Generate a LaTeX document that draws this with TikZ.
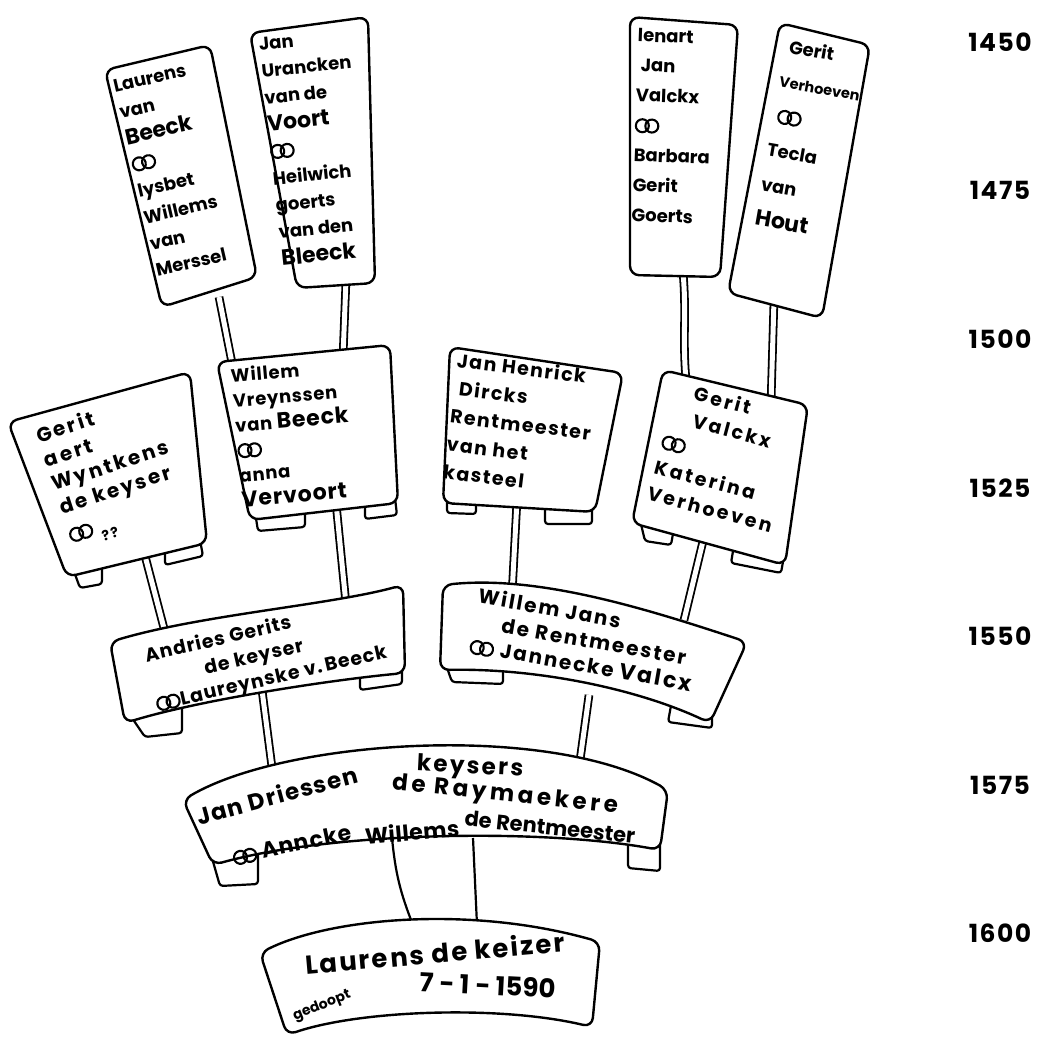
\documentclass[tikz,border=0pt]{standalone}
\usepackage{fontspec}
\setmainfont{Poppins}
\usetikzlibrary{positioning}

\newcommand\rings{\tikz[baseline=0pt, x=1pt, y=1pt, line width=2.1pt]{\draw (0,6) circle[radius=6.5]; \draw (9.5,6) circle[radius=6.5];}}
\newcommand\hand{\fontsize{18}{27}\selectfont\bfseries}
\newcommand\bighand{\fontsize{22}{27}\selectfont}
\newcommand\smallhand{\fontsize{14}{27}\selectfont}
\newcommand\spread[1]{\addfontfeature{LetterSpace=#1}}

\tikzset{
  board/.style={draw, fill=white, line width=2.4pt, rounded corners=9pt, line join=round},
  tabline/.style={draw, fill=white, line width=2.2pt, rounded corners=3pt, line join=round},
  stem/.style={double, double distance=5pt, line width=1.8pt},
  post/.style={line width=2.2pt},
  person/.style={align=left, font=\hand, inner sep=0pt},
  yearlabel/.style={font=\fontsize{25}{25}\selectfont\bfseries\spread{6}, inner sep=0pt},
}

\begin{document}
\begin{tikzpicture}[x=1pt, y=-1pt]
\useasboundingbox (0,0) rectangle (1052,1038);

% stem ends
\coordinate (b1s) at (219,297);  \coordinate (b6n1) at (233,368);
\coordinate (b2s) at (346,280);  \coordinate (b6n2) at (343,357);
\coordinate (b3s) at (683,272);  \coordinate (b8n1) at (686,380);
\coordinate (b4s) at (774,300);  \coordinate (b8n2) at (771,403);
\coordinate (b5s) at (144,552);  \coordinate (b9n1) at (166,636);
\coordinate (b6s) at (336,503);  \coordinate (b9n2) at (346,604);
\coordinate (b7s) at (517,500);  \coordinate (b10n1) at (512,595);
\coordinate (b8s) at (704,537);  \coordinate (b10n2) at (684,620);
\coordinate (b9s) at (262,690);  \coordinate (b11n1) at (273,775);
\coordinate (b10s) at (589,695); \coordinate (b11n2) at (578,775);
\coordinate (b11sa) at (392,838); \coordinate (b12na) at (413,925);
\coordinate (b11sb) at (473,838); \coordinate (b12nb) at (477,925);

% posts
\draw[stem] (b1s) -- (b6n1);
\draw[stem] (b2s) -- (b6n2);
\draw[stem] (b3s) to[out=-85,in=95] (b8n1);
\draw[stem] (b4s) -- (b8n2);
\draw[stem] (b5s) -- (b9n1);
\draw[stem] (b6s) -- (b9n2);
\draw[stem] (b7s) -- (b10n1);
\draw[stem] (b8s) -- (b10n2);
\draw[stem] (b9s) -- (b11n1);
\draw[stem] (b10s) -- (b11n2);
\draw[post] (b11sa) to[bend right=8] (b12na);
\draw[post] (b11sb) -- (b12nb);

% top row
\draw[board] (105,70) -- (210,45) -- (257,277) -- (162,307) -- cycle;
\draw[board] (250,33) -- (368,17) -- (375,283) -- (297,288) -- cycle;
\draw[board] (630,17) -- (738,25) -- (720,277) -- (630,275) -- cycle;
\draw[board] (780,23) -- (870,45) -- (822,318) -- (728,293) -- cycle;

% second row, with the scroll ends
\draw[tabline] (102,562) -- (102,584) -- (80,588) -- (72,566);
\draw[tabline] (165,548) -- (165,565) -- (203,556) -- (200,540);
\draw[board] (8,422) -- (190,372) -- (207,543) -- (67,577) -- cycle;
\draw[tabline] (305,508) -- (305,527) -- (258,531) -- (255,512);
\draw[tabline] (365,500) -- (365,519) -- (397,515) -- (395,498);
\draw[board] (217,362) -- (390,345) -- (398,503) -- (250,520) -- cycle;
\draw[tabline] (476,498) -- (476,514) -- (447,513) -- (447,495);
\draw[tabline] (545,503) -- (545,524) -- (592,524) -- (592,505);
\draw[board] (450,347) -- (623,373) -- (595,512) -- (443,503) -- cycle;
\draw[tabline] (674,528) -- (671,545) -- (645,541) -- (640,520);
\draw[tabline] (734,545) -- (731,563) -- (781,573) -- (784,556);
\draw[board] (663,370) -- (808,405) -- (785,565) -- (632,523) -- cycle;

% banners
\draw[tabline] (360,670) -- (360,690) -- (402,684) -- (402,665);
\draw[tabline] (182,705) -- (182,733) -- (145,737) -- (130,715);
\draw[board] (110,642) .. controls (200,615) and (330,605) .. (403,585) -- (405,673)
  .. controls (330,680) and (200,700) .. (125,723) -- cycle;
\draw[tabline] (503,665) -- (503,684) -- (452,682) -- (445,662);
\draw[tabline] (672,700) -- (668,722) -- (712,728) -- (712,715);
\draw[board] (443,585) .. controls (540,575) and (650,610) .. (747,642) -- (710,723)
  .. controls (640,690) and (540,668) .. (440,670) -- cycle;
\draw[tabline] (258,852) -- (258,884) -- (220,886) -- (212,858);
\draw[tabline] (628,840) -- (628,868) -- (660,871) -- (660,842);
\draw[board] (183,800) .. controls (285,740) and (545,722) .. (668,790) -- (660,850)
  .. controls (540,828) and (330,832) .. (213,865) -- cycle;
\draw[board] (260,953) .. controls (330,918) and (470,905) .. (600,942) -- (592,1027)
  .. controls (500,1005) and (360,1010) .. (287,1035) -- cycle;

% names
\node[person, anchor=north west, rotate=13] (laurens) at (112,80)
  {Laurens\\van\\{\bighand Beeck}\\\rings\\lysbet\\Willems\\van\\Merssel};
\node[person, anchor=north west, rotate=6] (jan) at (258,38)
  {Jan\\Urancken\\van de\\{\bighand Voort}\\\rings\\Heilwich\\goerts\\van den\\{\bighand Bleeck}};
\node[person, anchor=north west, rotate=-2, font=\fontsize{18}{30}\selectfont\bfseries] (lenart) at (638,28)
  {lenart\\\ Jan\\Valckx\\\rings\\Barbara\\Gerit\\Goerts};
\node[person, anchor=north west, rotate=-10, font=\fontsize{18}{35}\selectfont\bfseries] (gerit) at (787,38)
  {\ Gerit\\{\fontsize{14.5}{35}\selectfont Verhoeven}\\\ \rings\\Tecla\\van\\{\bighand Hout}};
\node[person, anchor=north west, rotate=18, font=\fontsize{20}{25}\selectfont\bfseries\spread{12}] (aert) at (34,428)
  {Gerit\\aert\\Wyntkens\\de keyser\\[4pt]\rings\ \raisebox{-9pt}{\smallhand ??}};
\node[person, anchor=north west, rotate=5, font=\fontsize{18}{25}\selectfont\bfseries\spread{4}] (willem) at (230,368)
  {Willem\\Vreynssen\\van {\bighand Beeck}\\\rings\\anna\\{\bighand Vervoort}};
\node[person, anchor=north west, rotate=-7, font=\fontsize{19}{28}\selectfont\bfseries\spread{8}] (henrick) at (458,352)
  {Jan Henrick\\\ Dircks\\Rentmeester\\van het\\kasteel};
\node[person, anchor=north west, rotate=-15, font=\fontsize{19}{27}\selectfont\bfseries\spread{14}] (valckx) at (678,380)
  {\quad Gerit\\\hspace{25pt}Valckx\\\rings\\Katerina\\Verhoeven};
\node[person, rotate=13, font=\fontsize{19}{25}\selectfont\bfseries\spread{5}] (andries) at (266,655)
  {Andries Gerits\\\hspace{55pt}de keyser\\\rings Laureynske v.\,Beeck};
\node[person, rotate=-10, font=\fontsize{20}{25}\selectfont\bfseries\spread{10}] (willemjans) at (585,640)
  {Willem Jans\\\hspace{28pt}de Rentmeester\\\rings\ Jannecke {\bighand Valcx}};
\node[person, rotate=15, font=\fontsize{23}{24}\selectfont\bfseries\spread{6}] (driessen) at (277,795) {Jan Driessen};
\node[person, rotate=-3, font=\fontsize{23}{24}\selectfont\bfseries\spread{10}] (keysers) at (470,768) {keysers};
\node[person, rotate=-6, font=\fontsize{23}{25}\selectfont\bfseries\spread{16}] (raymaekere) at (505,796) {de Raymaekere};
\node[person, rotate=12, font=\fontsize{22}{23}\selectfont\bfseries\spread{4}] (anncke) at (292,845) {\rings\ Anncke};
\node[person, rotate=5, font=\fontsize{22}{23}\selectfont\bfseries\spread{2}] (willems) at (412,832) {Willems};
\node[person, rotate=-6, font=\fontsize{21}{23}\selectfont\bfseries] (rentmeester) at (550,827) {de Rentmeester};
\node[person, rotate=5, font=\fontsize{26}{28}\selectfont\bfseries\spread{8}] (keizer) at (435,953) {Laurens de keizer};
\node[person, rotate=22, font=\smallhand\bfseries] (gedoopt) at (322,1006) {gedoopt};
\node[person, rotate=-3, font=\fontsize{26}{28}\selectfont\bfseries] (datum) at (488,985) {7 - 1 - 1590};

% years
\foreach \yr [count=\i from 0] in {1450,1475,1500,1525,1550,1575,1600}
  \node[yearlabel] (y\yr) at (1000,42+148.6*\i) {\yr};
\end{tikzpicture}
\end{document}
